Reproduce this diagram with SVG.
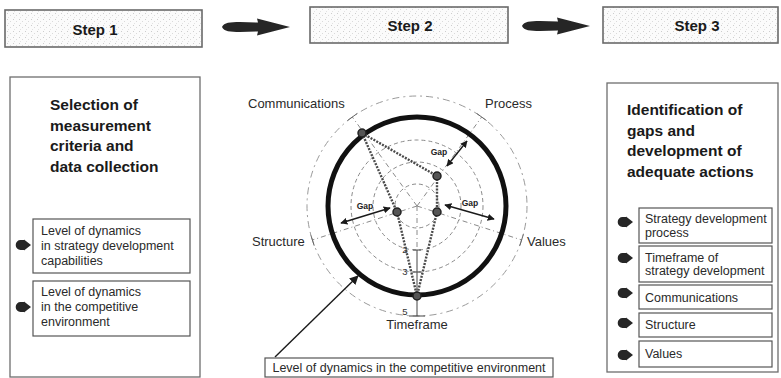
<svg xmlns="http://www.w3.org/2000/svg" width="781" height="378" viewBox="0 0 781 378">
  <style>
    .step { fill: url(#stipple); stroke: #6a6a6a; stroke-width: 1.6; }
    .step-label { font-family: "Liberation Sans", Arial, sans-serif; font-weight: bold; font-size: 15px; fill: #1a1a1a; text-anchor: middle; }
    .panel { fill: #fff; stroke: #6e6e6e; stroke-width: 1.3; }
    .item { fill: #fff; stroke: #555; stroke-width: 1.2; }
    .title { font-family: "Liberation Sans", Arial, sans-serif; font-weight: bold; font-size: 15.5px; fill: #1a1a1a; }
    .txt { font-family: "Liberation Sans", Arial, sans-serif; font-size: 12.5px; fill: #2a2a2a; }
    .axis-label { font-family: "Liberation Sans", Arial, sans-serif; font-size: 13px; fill: #2a2a2a; }
    .tick-label { font-family: "Liberation Sans", Arial, sans-serif; font-size: 9.5px; fill: #333; text-anchor: middle; }
    .gap { font-family: "Liberation Sans", Arial, sans-serif; font-weight: bold; font-size: 8.5px; fill: #222; text-anchor: middle; }
    .ring { fill: none; stroke: #8a8a8a; stroke-width: 1; stroke-dasharray: 4 3; }
    .ring-outer { fill: none; stroke: #9a9a9a; stroke-width: 1; stroke-dasharray: 7 4 2 4; }
    .spoke { stroke: #8a8a8a; stroke-width: 1; stroke-dasharray: 5 3 1 3; fill: none; }
    .profile { stroke: #4a4a4a; stroke-width: 2.4; stroke-dasharray: 2 1.3; fill: none; }
    .point { fill: #555; stroke: #222; stroke-width: 1.5; }
    .gap-arrow { stroke: #1a1a1a; stroke-width: 1.4; fill: none; marker-start: url(#head); marker-end: url(#head); }
    .bullet { fill: #262626; }
    .big-arrow { fill: #262626; }
  </style>
  <defs>
    <pattern id="stipple" width="6" height="6" patternUnits="userSpaceOnUse">
      <rect width="6" height="6" fill="#fbfbfb"/>
      <rect x="1" y="1" width="1" height="1" fill="#cdcdcd"/>
      <rect x="4" y="3" width="1" height="1" fill="#dadada"/>
      <rect x="2" y="5" width="1" height="1" fill="#e2e2e2"/>
    </pattern>
    <marker id="head" viewBox="0 0 10 10" refX="9" refY="5" markerWidth="7" markerHeight="7" markerUnits="userSpaceOnUse" orient="auto-start-reverse">
      <path d="M0,0 L10,5 L0,10 Z" fill="#1a1a1a"/>
    </marker>
    <marker id="callout-head" viewBox="0 0 10 10" refX="9" refY="5" markerWidth="9" markerHeight="9" markerUnits="userSpaceOnUse" orient="auto">
      <path d="M0,0 L10,5 L0,10 Z" fill="#1a1a1a"/>
    </marker>
    <!-- round-backed arrow used as list bullet -->
    <path id="bullet" class="bullet" d="M4.5,-5 L8,-5 L8,-5.5 L15,0 L8,5.5 L8,5 L4.5,5 A4.8,5 0 0 1 4.5,-5 Z"/>
  </defs>

  <rect width="781" height="378" fill="#fff"/>

  <!-- step headers -->
  <g id="step1">
    <rect class="step" x="5" y="10" width="197" height="37"/>
    <text class="step-label" x="95" y="35">Step 1</text>
  </g>
  <g id="step2">
    <rect class="step" x="310" y="7" width="198" height="36"/>
    <text class="step-label" x="410" y="31">Step 2</text>
  </g>
  <g id="step3">
    <rect class="step" x="603" y="7" width="175" height="36"/>
    <text class="step-label" x="697" y="31">Step 3</text>
  </g>

  <!-- arrows between steps and the callout pointer -->
  <g id="connectors">
    <path class="big-arrow" d="M222,27 C224,22.5 230,22 240,22 L258,22.5 L257,18.5 L290,27 L257,35.5 L258,31.5 L240,32 C230,32 224,31.5 222,27 Z"/>
    <path class="big-arrow" d="M522,26 C524,21.5 530,21 540,21 L558,21.5 L557,17.5 L590,26 L557,34.5 L558,30.5 L540,31 C530,31 524,30.5 522,26 Z"/>
    <line x1="275" y1="357" x2="358" y2="276" stroke="#1a1a1a" stroke-width="1.4" marker-end="url(#callout-head)"/>
  </g>

  <!-- step 1 panel -->
  <g id="panel-left">
    <rect class="panel" x="10" y="77" width="190" height="300"/>
    <text class="title" x="50" y="110">Selection of</text>
    <text class="title" x="50" y="131">measurement</text>
    <text class="title" x="50" y="151">criteria and</text>
    <text class="title" x="50" y="172">data collection</text>
  </g>
  <g id="item-left-1">
    <rect class="item" x="33" y="219" width="157" height="54"/>
    <use href="#bullet" x="16" y="245"/>
    <text class="txt" x="41" y="235">Level of dynamics</text>
    <text class="txt" x="41" y="250">in strategy development</text>
    <text class="txt" x="41" y="265">capabilities</text>
  </g>
  <g id="item-left-2">
    <rect class="item" x="33" y="281" width="157" height="55"/>
    <use href="#bullet" x="16" y="307"/>
    <text class="txt" x="41" y="296">Level of dynamics</text>
    <text class="txt" x="41" y="311">in the competitive</text>
    <text class="txt" x="41" y="326">environment</text>
  </g>

  <!-- step 2 radar chart, centre (417,206), 22 px per level -->
  <g id="radar">
    <circle class="ring" cx="417" cy="206" r="22"/>
    <circle class="ring" cx="417" cy="206" r="44"/>
    <circle class="ring" cx="417" cy="206" r="66"/>
    <circle class="ring-outer" cx="417" cy="206" r="110"/>
    <!-- spokes -->
    <line class="spoke" x1="417" y1="206" x2="352.3" y2="117"/>
    <line class="spoke" x1="417" y1="206" x2="481.7" y2="117"/>
    <line class="spoke" x1="417" y1="206" x2="312.4" y2="240"/>
    <line class="spoke" x1="417" y1="206" x2="521.6" y2="240"/>
    <line class="spoke" x1="417" y1="206" x2="417" y2="250"/>
    <!-- end ticks -->
    <line x1="347.5" y1="120.5" x2="357.2" y2="113.5" stroke="#666" stroke-width="1"/>
    <line x1="476.8" y1="113.5" x2="486.5" y2="120.5" stroke="#666" stroke-width="1"/>
    <line x1="310.6" y1="234.3" x2="314.2" y2="245.7" stroke="#666" stroke-width="1"/>
    <line x1="523.4" y1="234.3" x2="519.8" y2="245.7" stroke="#666" stroke-width="1"/>
    <!-- timeframe scale -->
    <line x1="417" y1="250" x2="417" y2="316" stroke="#444" stroke-width="1"/>
    <line x1="413" y1="250" x2="421" y2="250" stroke="#444" stroke-width="1"/>
    <line x1="413" y1="272" x2="421" y2="272" stroke="#444" stroke-width="1"/>
    <line x1="409" y1="316" x2="425" y2="316" stroke="#444" stroke-width="1"/>
    <text class="tick-label" x="405" y="253">2</text>
    <text class="tick-label" x="405" y="275">3</text>
    <text class="tick-label" x="405" y="315">5</text>
    <!-- competitive environment level -->
    <circle cx="417" cy="206" r="89" fill="none" stroke="#111" stroke-width="5"/>
    <!-- capability profile -->
    <polygon class="profile" points="362,133 437,176 437,212 417,296 397,212"/>
    <circle class="point" cx="362" cy="133" r="4"/>
    <circle class="point" cx="437" cy="176" r="4"/>
    <circle class="point" cx="397" cy="212" r="4"/>
    <circle class="point" cx="437" cy="212" r="4"/>
    <circle class="point" cx="417" cy="296" r="4"/>
    <!-- gaps -->
    <line class="gap-arrow" x1="447" y1="166" x2="467" y2="141"/>
    <line class="gap-arrow" x1="390" y1="208" x2="341" y2="223"/>
    <line class="gap-arrow" x1="445" y1="205" x2="494" y2="219"/>
    <text class="gap" x="439" y="155">Gap</text>
    <text class="gap" x="365" y="209">Gap</text>
    <text class="gap" x="470" y="206">Gap</text>
    <!-- axis names -->
    <text class="axis-label" x="248" y="108">Communications</text>
    <text class="axis-label" x="485" y="108">Process</text>
    <text class="axis-label" x="252" y="246">Structure</text>
    <text class="axis-label" x="527" y="246">Values</text>
    <text class="axis-label" x="417" y="329" text-anchor="middle">Timeframe</text>
  </g>

  <g id="callout">
    <rect class="item" x="265" y="358" width="288" height="19"/>
    <text class="txt" x="409" y="372" text-anchor="middle">Level of dynamics in the competitive environment</text>
  </g>

  <!-- step 3 panel -->
  <g id="panel-right">
    <rect class="panel" x="607" y="83" width="171" height="289"/>
    <text class="title" x="627" y="115">Identification of</text>
    <text class="title" x="627" y="136">gaps and</text>
    <text class="title" x="627" y="156">development of</text>
    <text class="title" x="627" y="177">adequate actions</text>
  </g>
  <g id="item-right-1">
    <rect class="item" x="639" y="208" width="133" height="35"/>
    <use href="#bullet" x="618" y="222"/>
    <text class="txt" x="645" y="223">Strategy development</text>
    <text class="txt" x="645" y="237">process</text>
  </g>
  <g id="item-right-2">
    <rect class="item" x="639" y="246" width="133" height="36"/>
    <use href="#bullet" x="618" y="258"/>
    <text class="txt" x="645" y="262">Timeframe of</text>
    <text class="txt" x="645" y="275">strategy development</text>
  </g>
  <g id="item-right-3">
    <rect class="item" x="639" y="285" width="133" height="24"/>
    <use href="#bullet" x="618" y="293"/>
    <text class="txt" x="645" y="302">Communications</text>
  </g>
  <g id="item-right-4">
    <rect class="item" x="639" y="313" width="133" height="24"/>
    <use href="#bullet" x="618" y="323"/>
    <text class="txt" x="645" y="329">Structure</text>
  </g>
  <g id="item-right-5">
    <rect class="item" x="639" y="341" width="133" height="26"/>
    <use href="#bullet" x="618" y="355"/>
    <text class="txt" x="645" y="358">Values</text>
  </g>
</svg>
